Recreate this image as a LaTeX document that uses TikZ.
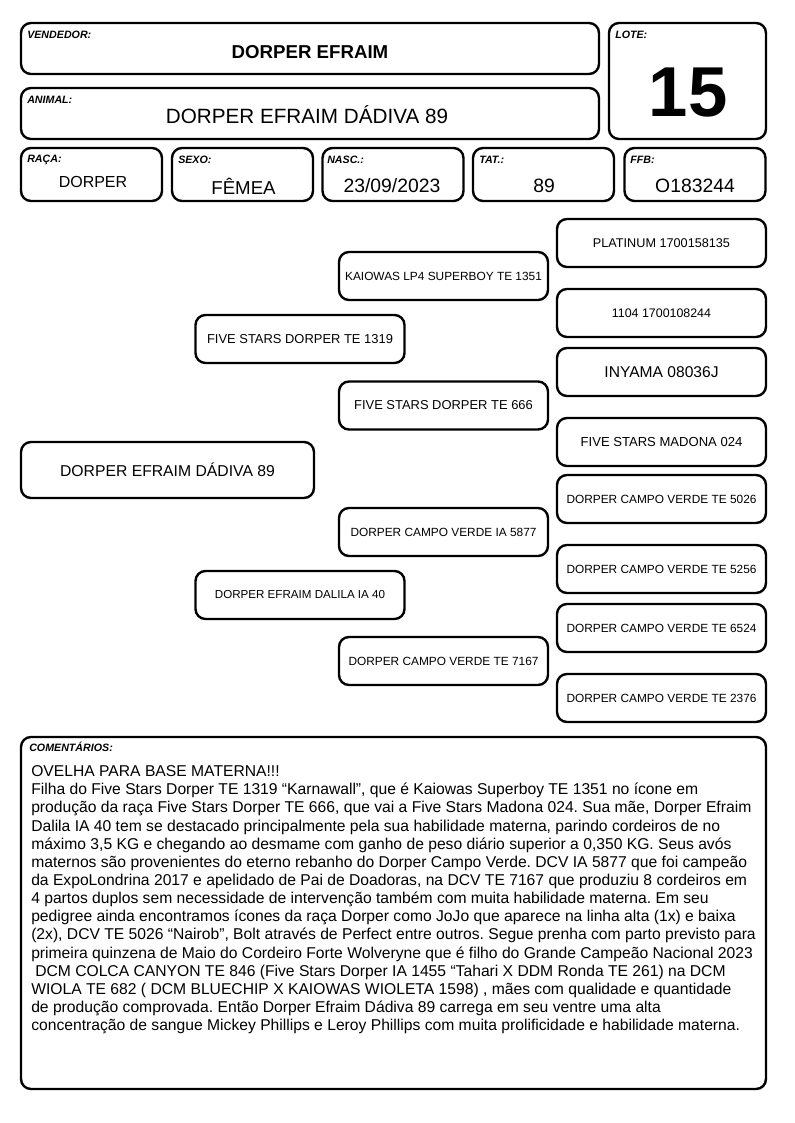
\documentclass[tikz,border=0pt]{standalone}
\usepackage{fontspec}
\setmainfont{Liberation Sans}
\usepackage{tikz}
\usetikzlibrary{positioning}
\newcommand{\pt}[1]{\fontsize{#1}{#1}\selectfont}
\frenchspacing

\begin{document}
\begin{tikzpicture}[x=0.75pt, y=-0.75pt,
    card/.style={draw, line width=1.8pt, rounded corners=7.5pt, inner sep=0pt},
    tag/.style={anchor=west, inner sep=0pt, font=\pt{8}\bfseries\itshape},
    ped/.style={card, minimum width=156.75pt, minimum height=36pt}]
    \useasboundingbox (0,0) rectangle (794,1123);

    % cabecalho: vendedor, animal, lote
    \node[card, minimum width=433.5pt, minimum height=38.25pt] (vendedor) at (310,48.5) {};
    \node[tag] (vendedortag) at (27,35) {VENDEDOR:};
    \node[font=\pt{14}\bfseries] (vendedorname) at (310,52) {DORPER EFRAIM};

    \node[card, minimum width=433.5pt, minimum height=38.25pt] (animal) at (310,113.5) {};
    \node[tag] (animaltag) at (27,100) {ANIMAL:};
    \node[font=\pt{15.5}] (animalname) at (307,115) {DORPER EFRAIM DÁDIVA 89};

    \node[card, minimum width=117.75pt, minimum height=87pt] (lote) at (687.5,81) {};
    \node[tag] (lotetag) at (615,35) {LOTE:};
    \node[font=\pt{53}\bfseries] (lotenum) at (688,93) {15};

    % linha de dados
    \node[card, minimum width=105.75pt, minimum height=39.75pt] (raca) at (91.5,174.5) {};
    \node[tag] (racatag) at (27,160) {RAÇA:};
    \node[font=\pt{12}] (racaval) at (93,182) {DORPER};

    \node[card, minimum width=105.75pt, minimum height=39.75pt] (sexo) at (242.5,174.5) {};
    \node[tag] (sexotag) at (178,160) {SEXO:};
    \node[font=\pt{14}] (sexoval) at (243.5,186) {FÊMEA};

    \node[card, minimum width=105.75pt, minimum height=39.75pt] (nasc) at (393,174.5) {};
    \node[tag] (nasctag) at (327,160) {NASC.:};
    \node[font=\pt{14.5}] (nascval) at (392,186) {23/09/2023};

    \node[card, minimum width=105.75pt, minimum height=39.75pt] (tat) at (543.5,174.5) {};
    \node[tag] (tattag) at (479,160) {TAT.:};
    \node[font=\pt{14.5}] (tatval) at (544,186) {89};

    \node[card, minimum width=105.75pt, minimum height=39.75pt] (ffb) at (695,174.5) {};
    \node[tag] (ffbtag) at (630,160) {FFB:};
    \node[font=\pt{14.5}] (ffbval) at (695,186) {O183244};

    % pedigree
    \node[card, minimum width=219.75pt, minimum height=42pt, font=\pt{11.8}] (filha) at (167.5,470) {DORPER EFRAIM DÁDIVA 89};

    \node[ped, font=\pt{9.7}] (pai) at (300,339) {FIVE STARS DORPER TE 1319};
    \node[ped, font=\pt{8.7}] (mae) at (300,595) {DORPER EFRAIM DALILA IA 40};

    \node[ped, font=\pt{8.9}] (avopp) at (443.5,276) {KAIOWAS LP4 SUPERBOY TE 1351};
    \node[ped, font=\pt{9.7}] (avopm) at (443.5,405.5) {FIVE STARS DORPER TE 666};
    \node[ped, font=\pt{8.9}] (avomp) at (443.5,532) {DORPER CAMPO VERDE IA 5877};
    \node[ped, font=\pt{8.9}] (avomm) at (443.5,661) {DORPER CAMPO VERDE TE 7167};

    \node[ped, font=\pt{9.5}] (bisa1) at (661.5,243) {PLATINUM 1700158135};
    \node[ped, font=\pt{9.3}] (bisa2) at (661.5,313) {1104 1700108244};
    \node[ped, font=\pt{11.7}] (bisa3) at (661.5,372) {INYAMA 08036J};
    \node[ped, font=\pt{9.8}] (bisa4) at (661.5,442) {FIVE STARS MADONA 024};
    \node[ped, font=\pt{8.9}] (bisa5) at (661.5,499) {DORPER CAMPO VERDE TE 5026};
    \node[ped, font=\pt{8.9}] (bisa6) at (661.5,569) {DORPER CAMPO VERDE TE 5256};
    \node[ped, font=\pt{8.9}] (bisa7) at (661.5,628) {DORPER CAMPO VERDE TE 6524};
    \node[ped, font=\pt{8.9}] (bisa8) at (661.5,698) {DORPER CAMPO VERDE TE 2376};

    % comentarios
    \node[card, minimum width=558.75pt, minimum height=264pt] (coment) at (393.5,913) {};
    \node[tag] (comenttag) at (29,747) {COMENTÁRIOS:};
    \node[anchor=north west, inner sep=0pt, align=left, font=\fontsize{11.75}{13.6}\selectfont] (comenttxt) at (31,765.5) {%
        OVELHA PARA BASE MATERNA!!!\\
        Filha do Five Stars Dorper TE 1319 “Karnawall”, que é Kaiowas Superboy TE 1351 no ícone em\\
        produção da raça Five Stars Dorper TE 666, que vai a Five Stars Madona 024. Sua mãe, Dorper Efraim\\
        Dalila IA 40 tem se destacado principalmente pela sua habilidade materna, parindo cordeiros de no\\
        máximo 3,5 KG e chegando ao desmame com ganho de peso diário superior a 0,350 KG. Seus avós\\
        maternos são provenientes do eterno rebanho do Dorper Campo Verde. DCV IA 5877 que foi campeão\\
        da ExpoLondrina 2017 e apelidado de Pai de Doadoras, na DCV TE 7167 que produziu 8 cordeiros em\\
        4 partos duplos sem necessidade de intervenção também com muita habilidade materna. Em seu\\
        pedigree ainda encontramos ícones da raça Dorper como JoJo que aparece na linha alta (1x) e baixa\\
        (2x), DCV TE 5026 “Nairob”, Bolt através de Perfect entre outros. Segue prenha com parto previsto para\\
        primeira quinzena de Maio do Cordeiro Forte Wolveryne que é filho do Grande Campeão Nacional 2023\\
        \hspace*{3pt}DCM COLCA CANYON TE 846 (Five Stars Dorper IA 1455 “Tahari X DDM Ronda TE 261) na DCM\\
        WIOLA TE 682 ( DCM BLUECHIP X KAIOWAS WIOLETA 1598) , mães com qualidade e quantidade\\
        de produção comprovada. Então Dorper Efraim Dádiva 89 carrega em seu ventre uma alta\\
        concentração de sangue Mickey Phillips e Leroy Phillips com muita prolificidade e habilidade materna.};

\end{tikzpicture}
\end{document}
